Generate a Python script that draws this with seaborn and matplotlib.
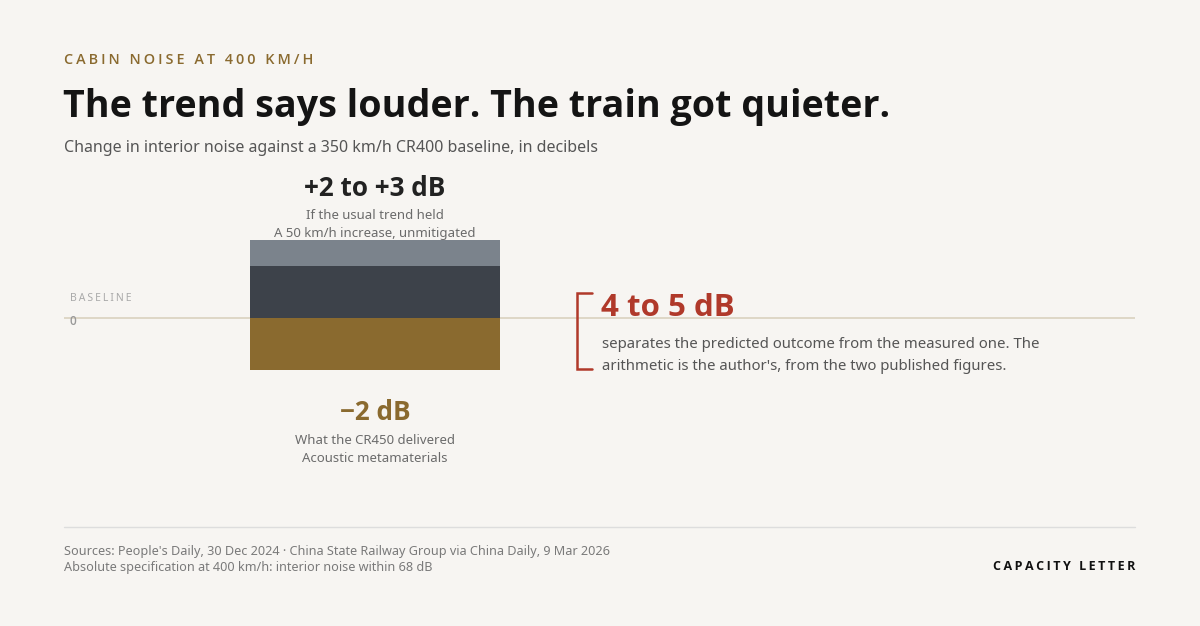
import matplotlib
matplotlib.use("Agg")
import matplotlib.pyplot as plt
import seaborn as sns
import pandas as pd

# ---- data ----
category = ["CR450"]
trend_high = [3]      # upper end of predicted rise (dB)
trend_low = [2]       # lower end of predicted rise (dB)
measured = [-2]       # measured change (dB)
gap_label = "4 to 5 dB"

BG = "#f7f5f2"
LIGHT = "#7b838c"
DARK = "#3d424a"
GOLD = "#8a6a2f"
RED = "#b0392a"

sns.set_theme(style="white")
plt.rcParams["font.family"] = ["Noto Sans", "DejaVu Sans"]
BOLDF = ["Open Sans", "DejaVu Sans"]

W, H = 1200, 626
fig = plt.figure(figsize=(12, 6.26), dpi=100, facecolor=BG)

def fx(x):
    return x / W

def fy(y):
    return 1 - y / H

ax = fig.add_axes([fx(64), fy(474), 1071 / W, 312 / H])
ax.set_facecolor(BG)

df_hi = pd.DataFrame({"cat": category, "val": trend_high})
df_lo = pd.DataFrame({"cat": category, "val": trend_low})
df_me = pd.DataFrame({"cat": category, "val": measured})

ax.axhline(0, color="#d9d1bf", lw=1.2, zorder=0)
sns.barplot(data=df_hi, x="cat", y="val", color=LIGHT, width=0.934,
            saturation=1, ax=ax, zorder=2, linewidth=0)
sns.barplot(data=df_lo, x="cat", y="val", color=DARK, width=0.934,
            saturation=1, ax=ax, zorder=3, linewidth=0)
sns.barplot(data=df_me, x="cat", y="val", color=GOLD, width=0.934,
            saturation=1, ax=ax, zorder=3, linewidth=0)

ax.set_xlim(-1.1615, 2.8385)
ax.set_ylim(-6, 6)
ax.set_xlabel("")
ax.set_ylabel("")
ax.set_xticks([])
ax.set_yticks([])
for s in ax.spines.values():
    s.set_visible(False)

def spaced(s, sp="\u200a"):
    return sp.join(list(s))

# header
fig.text(fx(64), fy(60), spaced("CABIN NOISE AT 400 KM/H", "\u200a\u200a"), color=GOLD,
         fontsize=10.4, fontweight="semibold", va="center", ha="left", family=BOLDF)
fig.text(fx(63), fy(107), "The trend says louder. The train got quieter.",
         color="#141414", fontsize=27.1, fontweight="bold", va="center", ha="left", family=BOLDF)
fig.text(fx(64), fy(148), "Change in interior noise against a 350 km/h CR400 baseline, in decibels",
         color="#555555", fontsize=11.5, va="center", ha="left")

# bar annotations
fig.text(fx(375), fy(188), f"+{trend_low[0]} to +{trend_high[0]} dB", color="#222222",
         fontsize=18.8, fontweight="bold", ha="center", va="center", family=BOLDF)
fig.text(fx(375), fy(215), "If the usual trend held", color="#6b6b6b",
         fontsize=9.5, ha="center", va="center")
fig.text(fx(375), fy(233), "A 50 km/h increase, unmitigated", color="#6b6b6b",
         fontsize=9.5, ha="center", va="center")

fig.text(fx(375), fy(412), f"\u2212{abs(measured[0])} dB", color=GOLD,
         fontsize=18.8, fontweight="bold", ha="center", va="center", family=BOLDF)
fig.text(fx(375), fy(441), "What the CR450 delivered", color="#6b6b6b",
         fontsize=9.5, ha="center", va="center")
fig.text(fx(375), fy(459), "Acoustic metamaterials", color="#6b6b6b",
         fontsize=9.5, ha="center", va="center")

# baseline label
fig.text(fx(70), fy(298), spaced("BASELINE", "\u200a\u200a"), color="#aaaaaa",
         fontsize=7.5, ha="left", va="center")
fig.text(fx(70), fy(321), "0", color="#999999", fontsize=8.5,
         fontweight="semibold", ha="left", va="center", family=BOLDF)

# bracket
bx = [fx(592), fx(577), fx(577), fx(592)]
by = [fy(293), fy(293), fy(369), fy(369)]
fig.add_artist(plt.Line2D(bx, by, color=RED, lw=1.8, solid_joinstyle="miter"))
fig.text(fx(601), fy(308), gap_label, color=RED, fontsize=22.5,
         fontweight="bold", ha="left", va="center", family=BOLDF)
fig.text(fx(602), fy(345), "separates the predicted outcome from the measured one. The",
         color="#555555", fontsize=10.75, ha="left", va="center")
fig.text(fx(602), fy(367), "arithmetic is the author's, from the two published figures.",
         color="#555555", fontsize=10.75, ha="left", va="center")

# footer
fig.add_artist(plt.Line2D([fx(64), fx(1135)], [fy(527), fy(527)], color="#dddddd", lw=1))
fig.text(fx(64), fy(551), "Sources: People's Daily, 30 Dec 2024 \u00b7 China State Railway Group via China Daily, 9 Mar 2026",
         color="#7a7a7a", fontsize=9.1, ha="left", va="center")
fig.text(fx(64), fy(568), "Absolute specification at 400 km/h: interior noise within 68 dB",
         color="#7a7a7a", fontsize=9.1, ha="left", va="center")
fig.text(fx(1135), fy(567), spaced("CAPACITY LETTER", "\u200a\u200a"), color="#111111",
         fontsize=9, fontweight="bold", ha="right", va="center", family=BOLDF)

fig.savefig("out.png", dpi=100, facecolor=BG)
